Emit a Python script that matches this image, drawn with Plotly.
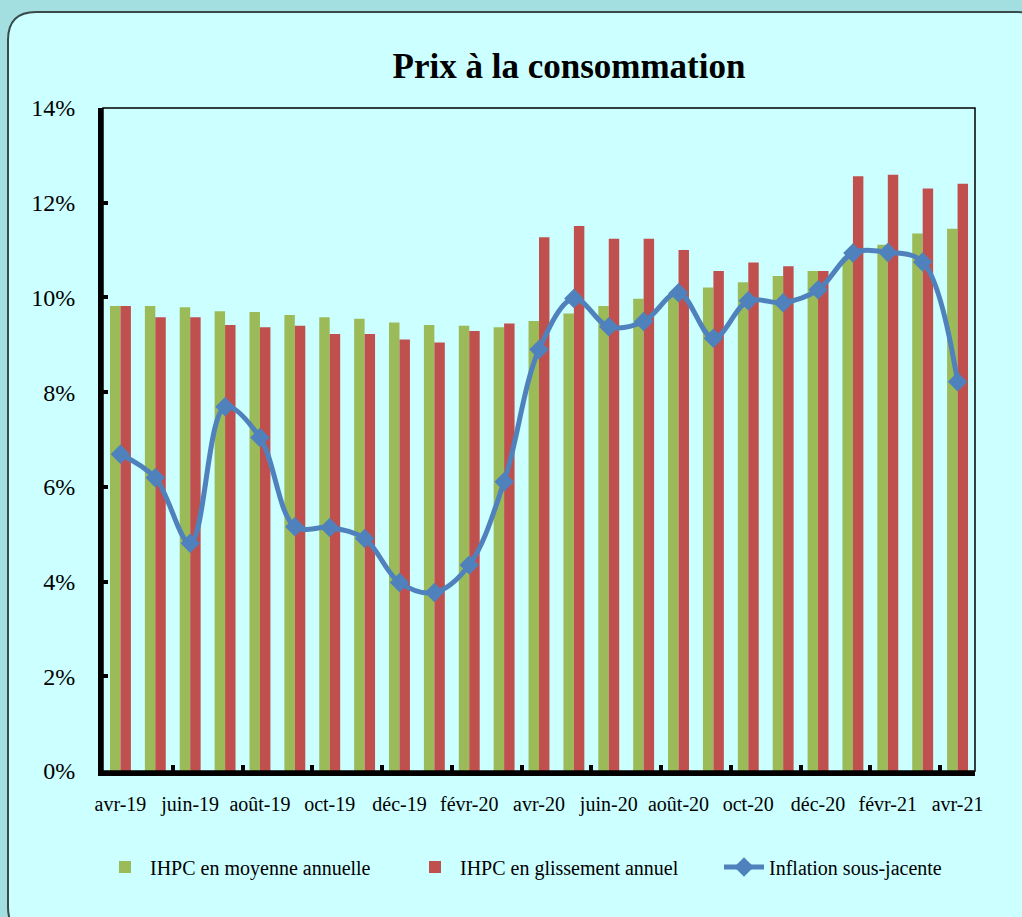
import plotly.graph_objects as go

months = ["avr-19", "mai-19", "juin-19", "juil-19", "août-19", "sept-19", "oct-19", "nov-19",
          "déc-19", "janv-20", "févr-20", "mars-20", "avr-20", "mai-20", "juin-20", "juil-20",
          "août-20", "sept-20", "oct-20", "nov-20", "déc-20", "janv-21", "févr-21", "mars-21", "avr-21"]

ihpc_moyenne = [9.82, 9.82, 9.79, 9.71, 9.69, 9.63, 9.58, 9.55, 9.47, 9.42, 9.40, 9.37, 9.50,
                9.66, 9.82, 9.97, 10.10, 10.21, 10.32, 10.45, 10.56, 10.85, 11.11, 11.35, 11.45]
ihpc_glissement = [9.82, 9.58, 9.58, 9.42, 9.37, 9.40, 9.23, 9.23, 9.11, 9.05, 9.29, 9.45, 11.27,
                   11.51, 11.24, 11.24, 11.00, 10.56, 10.74, 10.66, 10.56, 12.56, 12.59, 12.30, 12.40]
inflation_sj = [6.69, 6.19, 4.81, 7.69, 7.04, 5.16, 5.14, 4.91, 3.98, 3.77, 4.35, 6.11, 8.90,
                9.98, 9.38, 9.49, 10.10, 9.14, 9.93, 9.89, 10.16, 10.94, 10.95, 10.75, 8.22]

W, H = 1022, 917
L, R, T, B = 103, 975, 108, 771  # plot area in pixels


def px(x):
    return (x - L) / (R - L)


def py(y):
    return (B - y) / (B - T)


SERIF = "Liberation Serif, Times New Roman, serif"

fig = go.Figure()
fig.add_trace(go.Bar(x=months, y=ihpc_moyenne, name="IHPC en moyenne annuelle",
                     marker=dict(color="#9BBB59", line=dict(width=0)), legend="legend"))
fig.add_trace(go.Bar(x=months, y=ihpc_glissement, name="IHPC en glissement annuel",
                     marker=dict(color="#C0504D", line=dict(width=0)), legend="legend2"))
fig.add_trace(go.Scatter(x=months, y=inflation_sj, name="Inflation sous-jacente",
                         mode="lines+markers",
                         line=dict(color="#4F81BD", width=5, shape="spline", smoothing=1.0),
                         marker=dict(symbol="diamond", size=15, color="#4F81BD"),
                         legend="legend3"))

# rounded panel background
x0, y0, x1, y1, r = 8, 12, 1045, 935, 28
path = (f"M {px(x0 + r)} {py(y0)} L {px(x1 - r)} {py(y0)} "
        f"Q {px(x1)} {py(y0)} {px(x1)} {py(y0 + r)} L {px(x1)} {py(y1 - r)} "
        f"Q {px(x1)} {py(y1)} {px(x1 - r)} {py(y1)} L {px(x0 + r)} {py(y1)} "
        f"Q {px(x0)} {py(y1)} {px(x0)} {py(y1 - r)} L {px(x0)} {py(y0 + r)} "
        f"Q {px(x0)} {py(y0)} {px(x0 + r)} {py(y0)} Z")
shapes = [
    dict(type="path", xref="paper", yref="paper", path=path,
         fillcolor="#CCFFFF", line=dict(color="#3A4A4A", width=2), layer="below"),
    dict(type="rect", xref="paper", yref="paper", x0=0, y0=0, x1=1, y1=1,
         line=dict(color="black", width=1.5), fillcolor="rgba(0,0,0,0)", layer="above"),
]

legfont = dict(family=SERIF, size=20, color="black")


def leg(xpix):
    return dict(orientation="h", x=px(xpix), xanchor="left", y=py(867), yanchor="middle",
                bgcolor="rgba(0,0,0,0)", font=legfont, itemwidth=40)


fig.update_layout(
    width=W, height=H,
    margin=dict(l=L, r=W - R, t=T, b=H - B, autoexpand=False),
    paper_bgcolor="#A3DFE0",
    plot_bgcolor="white",
    barmode="group", bargap=0.4, bargroupgap=0.0,
    shapes=shapes,
    title=dict(text="<b>Prix à la consommation</b>", x=px(569), xref="paper", xanchor="center",
               y=1 - 66 / H, yanchor="middle",
               font=dict(family=SERIF, size=35, color="black")),
    font=dict(family=SERIF, color="black"),
    showlegend=True,
    legend=leg(100),
    legend2=leg(410),
    legend3=leg(719),
    xaxis=dict(type="category", tickmode="linear", tick0=0, dtick=2, tickson="boundaries",
               ticks="inside", ticklen=6, tickwidth=4, tickcolor="black",
               showline=True, linecolor="black", linewidth=5,
               showgrid=False, zeroline=False, tickangle=0,
               tickfont=dict(family=SERIF, size=20, color="black"),
               ticklabelstandoff=11, range=[-0.5, 24.5]),
    yaxis=dict(range=[0, 14], tickmode="linear", tick0=0, dtick=2, ticksuffix="%",
               ticks="inside", ticklen=5, tickwidth=4, tickcolor="black",
               showline=True, linecolor="black", linewidth=5,
               showgrid=False, zeroline=False,
               tickfont=dict(family=SERIF, size=24, color="black"),
               ticklabelstandoff=18),
)

fig.write_html("out.html", config={"displayModeBar": False},
               post_script="document.body.style.margin='0';")
